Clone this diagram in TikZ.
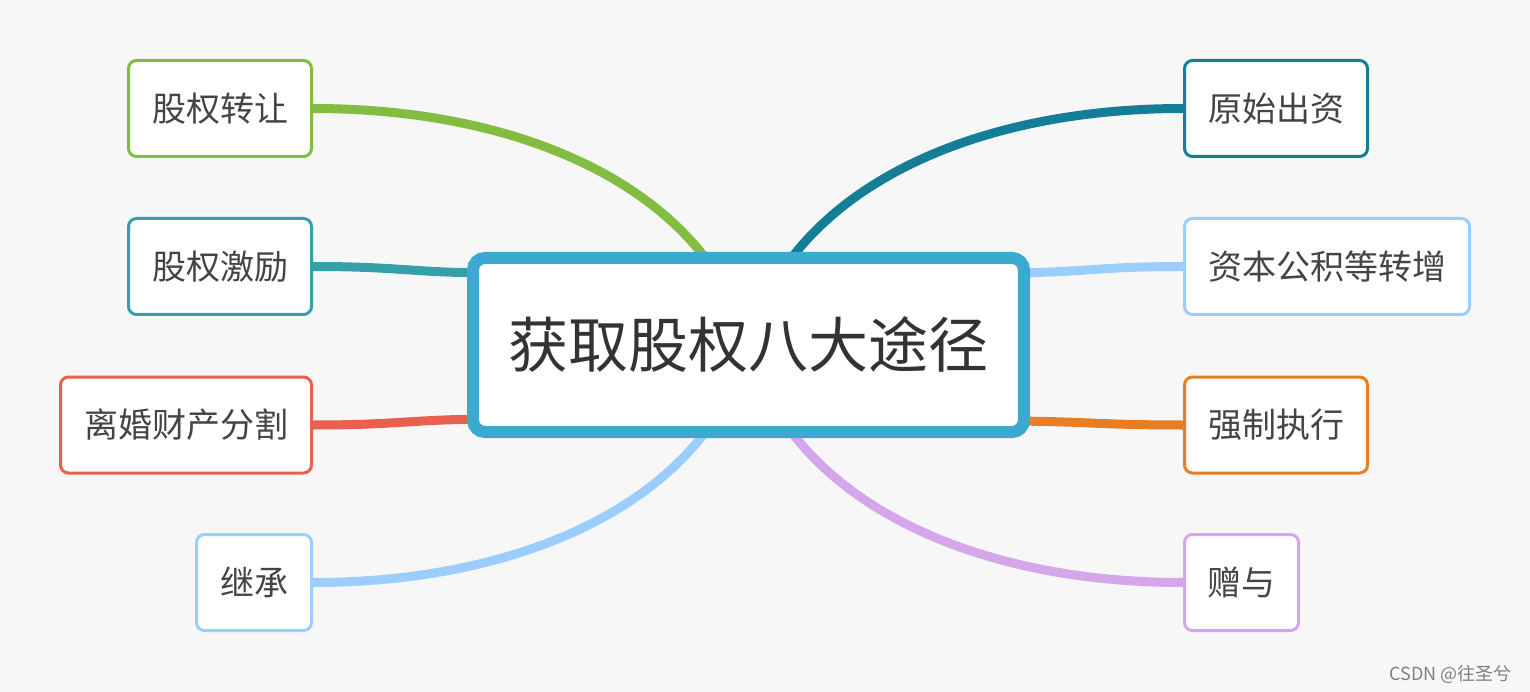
\documentclass[tikz,border=0pt]{standalone}
\usepackage{fontspec}
\newfontfamily\cjk{Noto Sans CJK SC}
\usetikzlibrary{backgrounds}

\definecolor{pagebg}{HTML}{F7F7F7}
\definecolor{hubblue}{HTML}{3CA9D0}
\definecolor{txtgray}{HTML}{444444}
\definecolor{hubtext}{HTML}{333333}
\definecolor{cgreen}{HTML}{82BC41}
\definecolor{cteal}{HTML}{36A0AA}
\definecolor{cred}{HTML}{E9604F}
\definecolor{clight}{HTML}{9BCEFE}
\definecolor{cdark}{HTML}{147E96}
\definecolor{corange}{HTML}{E87D24}
\definecolor{cpurple}{HTML}{D5A6EA}

\begin{document}
\begin{tikzpicture}[x=1pt, y=-1pt,
    box/.style={draw, line width=3pt, rounded corners=8pt, fill=white, minimum height=96pt,
      inner sep=0pt, font=\cjk\fontsize{34}{40}\selectfont, text=txtgray},
    branch/.style={line width=9pt}]
      % Centre
      \node[draw=hubblue, line width=12pt, rounded corners=12pt, fill=white, minimum width=551pt,
        minimum height=174pt, font=\cjk\fontsize{60}{70}\selectfont, text=hubtext] (hub) at (748.5, 345) {获取股权八大途径};
      \coordinate (hubA) at (500, 273);
      \coordinate (hubB) at (500, 419);
      \coordinate (hubC) at (997, 273);
      \coordinate (hubD) at (997, 421);

      % Gauche
      \node[box, draw=cgreen, minimum width=183pt] (zhuanrang) at (220, 108.5) {股权转让};
      \node[box, draw=cteal, minimum width=183pt] (jili) at (220, 266.5) {股权激励};
      \node[box, draw=cred, minimum width=251pt] (lihun) at (186, 425) {离婚财产分割};
      \node[box, draw=clight, minimum width=115pt] (jicheng) at (254, 582.5) {继承};

      % Droite
      \node[box, draw=cdark, minimum width=183pt] (chuzi) at (1276, 108.5) {原始出资};
      \node[box, draw=clight, minimum width=285pt] (zhuanzeng) at (1327, 266.5) {资本公积等转增};
      \node[box, draw=corange, minimum width=183pt] (zhixing) at (1276, 425) {强制执行};
      \node[box, draw=cpurple, minimum width=114pt] (zengyu) at (1241.5, 582.5) {赠与};

      \node[anchor=base east, font=\cjk\fontsize{18}{20}\selectfont, text=gray] (wm) at (1515, 680) {CSDN @往圣兮};

      % Le reste
      \begin{pgfonlayer}{background}
        \fill[pagebg] (0, 0) rectangle (1530, 692);
        \draw[branch, cgreen] (zhuanrang.east) .. controls +(220, 0) and +(-40, -150) .. (hub.center);
        \draw[branch, cteal] (jili.east) .. controls +(90, 0) and +(-90, 0) .. (hubA);
        \draw[branch, cred] (lihun.east) .. controls +(90, 0) and +(-90, 0) .. (hubB);
        \draw[branch, clight] (jicheng.east) .. controls +(220, 0) and +(-40, 150) .. (hub.center);
        \draw[branch, cdark] (chuzi.west) .. controls +(-220, 0) and +(40, -150) .. (hub.center);
        \draw[branch, clight] (zhuanzeng.west) .. controls +(-90, 0) and +(90, 0) .. (hubC);
        \draw[branch, corange] (zhixing.west) .. controls +(-90, 0) and +(90, 0) .. (hubD);
        \draw[branch, cpurple] (zengyu.west) .. controls +(-220, 0) and +(40, 150) .. (hub.center);
      \end{pgfonlayer}
    \end{tikzpicture}
\end{document}
